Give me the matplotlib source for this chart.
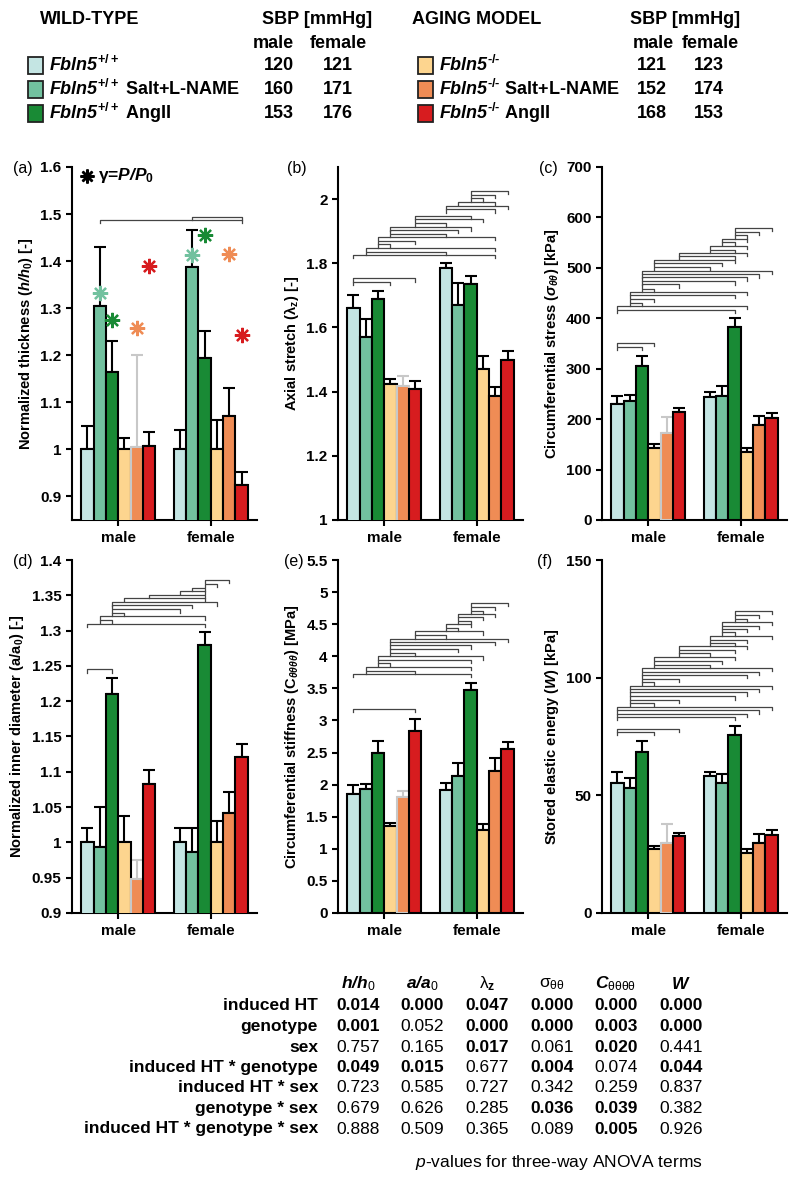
import numpy as np
import matplotlib
matplotlib.use("Agg")
import matplotlib.pyplot as plt
from matplotlib.patches import Rectangle
from matplotlib.ticker import FuncFormatter

plt.rcParams['font.family'] = ['Liberation Sans', 'DejaVu Sans']
plt.rcParams['mathtext.fontset'] = 'custom'
plt.rcParams['mathtext.rm'] = 'Liberation Sans'
plt.rcParams['mathtext.bf'] = 'Liberation Sans:bold'
plt.rcParams['mathtext.it'] = 'Liberation Sans:italic'
plt.rcParams['mathtext.bfit'] = 'Liberation Sans:italic:bold'

# groups / series
sexes = ['male', 'female']
series = ['Fbln5+/+', 'Fbln5+/+ Salt+L-NAME', 'Fbln5+/+ AngII',
          'Fbln5-/-', 'Fbln5-/- Salt+L-NAME', 'Fbln5-/- AngII']
colors = ['#c4e5e3', '#72c19f', '#198a35', '#fdd58f', '#ef8c55', '#d71c1f']

# systolic blood pressure [mmHg]
sbp_male = [120, 160, 153, 121, 152, 168]
sbp_female = [121, 171, 176, 123, 174, 153]

# (a) normalized thickness
thick_m = [1.000, 1.305, 1.165, 1.000, 1.005, 1.007]
thick_m_sem = [0.050, 0.125, 0.065, 0.025, 0.195, 0.031]
thick_f = [1.000, 1.387, 1.195, 1.000, 1.070, 0.925]
thick_f_sem = [0.042, 0.080, 0.057, 0.063, 0.060, 0.028]
gamma_m = [np.nan, 1.333, 1.275, np.nan, 1.257, 1.390]
gamma_f = [np.nan, 1.413, 1.455, np.nan, 1.415, 1.243]

# (b) axial stretch
stretch_m = [1.660, 1.570, 1.688, 1.425, 1.418, 1.408]
stretch_m_sem = [0.040, 0.055, 0.027, 0.015, 0.032, 0.024]
stretch_f = [1.785, 1.670, 1.735, 1.470, 1.385, 1.500]
stretch_f_sem = [0.015, 0.070, 0.025, 0.040, 0.028, 0.028]

# (c) circumferential stress
stress_m = [230, 236, 305, 143, 173, 215]
stress_m_sem = [15, 11, 21, 7, 32, 7]
stress_f = [244, 246, 383, 135, 189, 202]
stress_f_sem = [10, 19, 18, 8, 18, 10]

# (d) normalized inner diameter
diam_m = [1.000, 0.993, 1.210, 1.000, 0.948, 1.083]
diam_m_sem = [0.020, 0.057, 0.023, 0.038, 0.027, 0.019]
diam_f = [1.000, 0.987, 1.280, 1.000, 1.042, 1.121]
diam_f_sem = [0.020, 0.033, 0.018, 0.030, 0.030, 0.018]

# (e) circumferential stiffness
stiff_m = [1.85, 1.925, 2.495, 1.35, 1.805, 2.83]
stiff_m_sem = [0.15, 0.09, 0.19, 0.05, 0.10, 0.20]
stiff_f = [1.91, 2.14, 3.48, 1.30, 2.21, 2.55]
stiff_f_sem = [0.11, 0.20, 0.11, 0.08, 0.20, 0.12]

# (f) stored elastic energy
energy_m = [55.2, 53.1, 68.5, 27.0, 29.8, 32.7]
energy_m_sem = [4.7, 4.3, 4.7, 1.5, 8.0, 1.5]
energy_f = [58.1, 55.2, 75.5, 25.5, 29.8, 33.0]
energy_f_sem = [1.7, 4.0, 4.1, 1.7, 3.8, 2.3]

# significance brackets: (bar i, bar j, height), bars 0-5 male, 6-11 female
brackets_a = [(1, 11, 1.487), (7, 11, 1.494)]
brackets_b = [(8, 11, 2.026), (8, 10, 2.012), (8, 9, 2.002), (7, 10, 1.992),
              (6, 11, 1.979), (6, 10, 1.968), (5, 8, 1.947), (5, 9, 1.938),
              (5, 6, 1.924), (3, 8, 1.912), (3, 7, 1.904), (3, 6, 1.891),
              (2, 10, 1.881), (2, 5, 1.870), (2, 3, 1.859), (1, 10, 1.849),
              (1, 6, 1.836), (0, 10, 1.827), (0, 5, 1.753), (0, 3, 1.741)]
brackets_c = [(8, 11, 579), (8, 10, 571), (8, 9, 564.5), (7, 9, 558), (7, 8, 551),
              (6, 9, 543), (6, 8, 536), (5, 9, 529.5), (5, 8, 523), (3, 8, 516),
              (3, 7, 510), (3, 6, 502), (2, 11, 494), (2, 10, 487), (2, 9, 481),
              (2, 8, 473), (2, 5, 467), (2, 3, 459), (1, 9, 452), (1, 8, 446),
              (1, 3, 439), (1, 2, 431), (0, 9, 424), (0, 8, 417), (0, 3, 351),
              (0, 2, 343)]
brackets_d = [(8, 10, 1.372), (8, 9, 1.366), (7, 8, 1.361), (6, 8, 1.356),
              (5, 8, 1.351), (3, 8, 1.346), (2, 9, 1.340), (2, 7, 1.336),
              (2, 6, 1.330), (2, 3, 1.325), (1, 8, 1.320), (1, 2, 1.315),
              (0, 8, 1.310), (0, 2, 1.245)]
brackets_e = [(8, 11, 4.826), (8, 10, 4.775), (8, 9, 4.712), (7, 10, 4.661),
              (7, 9, 4.609), (7, 8, 4.557), (6, 8, 4.50), (6, 7, 4.438),
              (5, 9, 4.386), (5, 6, 4.324), (3, 11, 4.272), (3, 10, 4.22),
              (3, 8, 4.168), (3, 7, 4.111), (3, 5, 4.049), (2, 9, 3.997),
              (2, 8, 3.946), (2, 3, 3.894), (1, 8, 3.832), (1, 5, 3.775),
              (0, 8, 3.723), (0, 5, 3.179)]
brackets_f = [(8, 11, 128.5), (8, 10, 126.7), (8, 9, 125.0), (7, 11, 123.6),
              (7, 10, 122.1), (7, 9, 120.7), (7, 8, 119.2), (6, 11, 117.8),
              (6, 9, 116.1), (6, 8, 114.6), (5, 9, 113.5), (5, 8, 111.8),
              (5, 6, 110.4), (3, 8, 108.7), (3, 7, 107.2), (3, 6, 105.5),
              (2, 11, 104.0), (2, 10, 102.6), (2, 9, 101.2), (2, 5, 99.5),
              (2, 3, 98.1), (1, 11, 96.5), (1, 10, 95.1), (1, 9, 93.7),
              (1, 8, 92.0), (1, 5, 90.6), (1, 3, 89.2), (0, 11, 87.5),
              (0, 10, 86.1), (0, 9, 84.7), (0, 8, 83.3), (0, 5, 78.2),
              (0, 3, 76.8)]

# three-way ANOVA p-values
terms = ['induced HT', 'genotype', 'sex', 'induced HT * genotype',
         'induced HT * sex', 'genotype * sex', 'induced HT * genotype * sex']
p_hh0 = [0.014, 0.001, 0.757, 0.049, 0.723, 0.679, 0.888]
p_aa0 = [0.000, 0.052, 0.165, 0.015, 0.585, 0.626, 0.509]
p_lz = [0.047, 0.000, 0.017, 0.677, 0.727, 0.285, 0.365]
p_sig = [0.000, 0.000, 0.061, 0.004, 0.342, 0.036, 0.089]
p_C = [0.000, 0.003, 0.020, 0.074, 0.259, 0.039, 0.005]
p_W = [0.000, 0.000, 0.441, 0.044, 0.837, 0.382, 0.926]

W = 0.133
GREY = '#c8c8c8'


def xpos(k):
    return k // 6 + (k % 6 - 2.5) * W


def draw_panel(ax, male, male_sem, female, female_sem, brackets, ylim, yticks,
               ylabel, label, lab_x):
    for g, (vals, sems) in enumerate([(male, male_sem), (female, female_sem)]):
        for k in range(6):
            x = xpos(g * 6 + k)
            ec = GREY if (g == 0 and k == 4) else 'black'
            ax.errorbar(x, vals[k], yerr=[[0], [sems[k]]], color=ec, lw=1.5,
                        capsize=4, capthick=1.5, zorder=2)
            ax.bar(x, vals[k], W, color=colors[k], edgecolor=ec, lw=1.5,
                   zorder=3)
    dl = 0.009 * (ylim[1] - ylim[0])
    for i, j, y in brackets:
        ax.plot([xpos(i), xpos(i), xpos(j), xpos(j)], [y - dl, y, y, y - dl],
                color='#444444', lw=0.9, zorder=4)
    ax.set_xlim(-0.5, 1.5)
    ax.set_ylim(*ylim)
    ax.set_yticks(yticks)
    ax.yaxis.set_major_formatter(FuncFormatter(lambda v, p: '%g' % round(v, 3)))
    ax.set_xticks([0, 1])
    ax.set_xticklabels(sexes, fontsize=11.5, fontweight='bold')
    ax.spines['top'].set_visible(False)
    ax.spines['right'].set_visible(False)
    for s in ['left', 'bottom']:
        ax.spines[s].set_linewidth(1.5)
    ax.tick_params(width=1.5, length=4, labelsize=11)
    ax.tick_params(axis='x', pad=4)
    for t in ax.get_yticklabels():
        t.set_fontweight('bold')
    ax.set_ylabel(ylabel, fontsize=10.5, fontweight='bold', labelpad=4)
    ax.text(lab_x, 0.995, label, transform=ax.transAxes, fontsize=11.5,
            va='center', ha='center')


fig = plt.figure(figsize=(8, 11.79), dpi=100)
FH = 1179.0
lefts = [72 / 800, 338 / 800, 602 / 800]
aw = 185 / 800
ah = 353 / FH
b_top = 1 - 520 / FH
b_bot = 1 - 913 / FH

ax_a = fig.add_axes([lefts[0], b_top, aw, ah])
ax_b = fig.add_axes([lefts[1], b_top, aw, ah])
ax_c = fig.add_axes([lefts[2], b_top, aw, ah])
ax_d = fig.add_axes([lefts[0], b_bot, aw, ah])
ax_e = fig.add_axes([lefts[1], b_bot, aw, ah])
ax_f = fig.add_axes([lefts[2], b_bot, aw, ah])

draw_panel(ax_a, thick_m, thick_m_sem, thick_f, thick_f_sem, brackets_a,
           (0.85, 1.6), np.arange(0.9, 1.61, 0.1),
           r'Normalized thickness ($\mathbfit{h/h}_\mathbf{0}$) [-]', '(a)', -0.265)
draw_panel(ax_b, stretch_m, stretch_m_sem, stretch_f, stretch_f_sem, brackets_b,
           (1.0, 2.1), np.arange(1.0, 2.01, 0.2),
           r'Axial stretch (λ$_\mathbf{z}$) [-]', '(b)', -0.22)
draw_panel(ax_c, stress_m, stress_m_sem, stress_f, stress_f_sem, brackets_c,
           (0, 700), np.arange(0, 701, 100),
           r'Circumferential stress ($\mathbfit{σ}_{\mathbfit{θθ}}$) [kPa]', '(c)',
           -0.29)
draw_panel(ax_d, diam_m, diam_m_sem, diam_f, diam_f_sem, brackets_d,
           (0.9, 1.4), np.arange(0.9, 1.401, 0.05),
           r'Normalized inner diameter (a/a$_\mathbf{0}$) [-]', '(d)', -0.265)
draw_panel(ax_e, stiff_m, stiff_m_sem, stiff_f, stiff_f_sem, brackets_e,
           (0, 5.5), np.arange(0, 5.51, 0.5),
           r'Circumferential stiffness ($\mathbf{C}_{\mathbfit{θθθθ}}$) [MPa]', '(e)',
           -0.24)
draw_panel(ax_f, energy_m, energy_m_sem, energy_f, energy_f_sem, brackets_f,
           (0, 150), [0, 50, 100, 150],
           r'Stored elastic energy ($\mathbfit{W}$) [kPa]', '(f)', -0.31)

# gamma = P/P0 asterisks in (a)
for g, gam in enumerate([gamma_m, gamma_f]):
    for k in range(6):
        if not np.isnan(gam[k]):
            ax_a.plot(xpos(g * 6 + k), gam[k], marker=(8, 2, 0), ms=11,
                      mew=1.6, color=colors[k], zorder=5)
ax_a.plot(0.08, 0.975, marker=(8, 2, 0), ms=10, mew=1.8, color='black',
          transform=ax_a.transAxes, clip_on=False)
ax_a.text(0.14, 0.975, r'γ=$\mathbfit{P/P}_\mathbf{0}$', transform=ax_a.transAxes,
          fontsize=12.5, fontweight='bold', va='center')


# legend block at top
def fy(py):
    return 1 - py / FH


LFS = 13
for col, (x0, title, sbpx) in enumerate([(40, 'WILD-TYPE', 262),
                                         (412, 'AGING MODEL', 630)]):
    fig.text(x0 / 800, fy(20), title, fontsize=LFS, fontweight='bold', va='center')
    fig.text(sbpx / 800, fy(20), 'SBP [mmHg]', fontsize=LFS, fontweight='bold',
             va='center')
    mx, fx = (273, 338) if col == 0 else (653, 710)
    fig.text(mx / 800, fy(43), 'male', fontsize=LFS, fontweight='bold',
             va='center', ha='center')
    fig.text(fx / 800, fy(43), 'female', fontsize=LFS, fontweight='bold',
             va='center', ha='center')
    bx = 28 if col == 0 else 418
    nx = (279, 338) if col == 0 else (652, 709)
    sup = '+/+' if col == 0 else '‐/‐'
    suffix = ['', ' Salt+L-NAME', ' AngII']
    for r in range(3):
        k = col * 3 + r
        yc = 65 + r * 24
        fig.patches.append(Rectangle((bx / 800, fy(yc + 8.5)), 15 / 800, 17 / FH,
                                     transform=fig.transFigure, facecolor=colors[k],
                                     edgecolor='#222222', lw=1.3))
        fig.text((bx + 21) / 800, fy(yc),
                 r'$\mathbfit{Fbln5}^{\mathbf{' + sup + '}}$' + suffix[r],
                 fontsize=LFS, fontweight='bold', va='center')
        fig.text(nx[0] / 800, fy(yc), str(sbp_male[k]), fontsize=LFS,
                 fontweight='bold', va='center', ha='center')
        fig.text(nx[1] / 800, fy(yc), str(sbp_female[k]), fontsize=LFS,
                 fontweight='bold', va='center', ha='center')

# ANOVA table
TFS = 12.5
col_x = [358, 422, 487, 552, 616, 681]
headers = [(r'$\mathbfit{h/h}_\mathrm{0}$', 'bold'),
           (r'$\mathbfit{a/a}_\mathrm{0}$', 'bold'),
           (r'λ$_\mathbf{z}$', 'normal'), (r'σ$_\mathrm{θθ}$', 'normal'),
           (r'$\mathbfit{C}_\mathrm{θθθθ}$', 'bold'), (r'$\mathbfit{W}$', 'bold')]
for (h, wgt), cx in zip(headers, col_x):
    fig.text(cx / 800, fy(984), h, fontsize=TFS, fontweight=wgt, ha='center',
             va='center')
for r, term in enumerate(terms):
    yc = 1006 + r * 20.5
    fig.text(318 / 800, fy(yc), term, fontsize=TFS, fontweight='bold', ha='right',
             va='center')
    for pv, cx in zip([p_hh0, p_aa0, p_lz, p_sig, p_C, p_W], col_x):
        fig.text(cx / 800, fy(yc), '%.3f' % pv[r], fontsize=TFS,
                 fontweight='bold' if pv[r] < 0.05 else 'normal',
                 ha='center', va='center')
fig.text(703 / 800, fy(1162), r'$p$-values for three-way ANOVA terms',
         fontsize=TFS, ha='right', va='center')

fig.savefig('out.png', dpi=100)
